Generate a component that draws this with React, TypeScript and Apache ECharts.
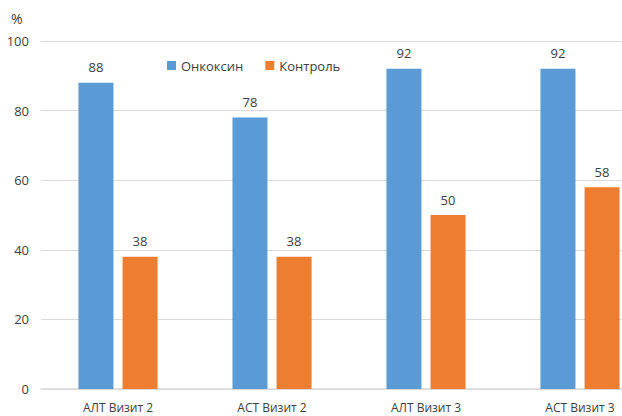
import React, { useEffect, useRef } from "react";
import * as echarts from "echarts";

const categories = ["АЛТ Визит 2", "АСТ Визит 2", "АЛТ Визит 3", "АСТ Визит 3"];
const onkoksin = [88, 78, 92, 92];
const kontrol = [38, 38, 50, 58];
const seriesNames = ["Онкоксин", "Контроль"];
const yUnit = "%";

export default function App() {
  const ref = useRef<HTMLDivElement>(null);
  useEffect(() => {
    if (!ref.current) return;
    document.body.style.overflow = "hidden";
    const chart = echarts.init(ref.current, undefined, { renderer: "svg" });
    const font = "'Open Sans', 'Noto Sans', sans-serif";
    const labelStyle = {
      show: true,
      position: "top" as const,
      distance: 9,
      color: "#404040",
      fontSize: 13,
      fontFamily: font,
    };
    chart.setOption({
      animation: false,
      backgroundColor: "#ffffff",
      textStyle: { fontFamily: font },
      graphic: [
        {
          type: "text",
          left: 11,
          top: 11,
          style: { text: yUnit, fill: "#404040", font: `14px ${font}` },
        },
      ],
      legend: {
        data: seriesNames,
        left: 162,
        top: 54,
        icon: "rect",
        itemWidth: 9,
        itemHeight: 9,
        itemGap: 22,
        textStyle: { color: "#404040", fontSize: 13, fontFamily: font },
      },
      grid: { left: 41, right: 0, top: 41, bottom: 27, containLabel: false },
      xAxis: {
        type: "category",
        data: categories,
        axisLine: { lineStyle: { color: "#d9d9d9", width: 1.5 } },
        axisTick: { show: false },
        axisLabel: { color: "#404040", fontSize: 12, margin: 12, fontFamily: font },
      },
      yAxis: {
        type: "value",
        min: 0,
        max: 100,
        interval: 20,
        axisLine: { show: false },
        axisTick: { show: false },
        splitLine: { lineStyle: { color: "#d9d9d9", width: 1 } },
        axisLabel: { color: "#404040", fontSize: 13, margin: 12, fontFamily: font },
      },
      series: [
        {
          name: seriesNames[0],
          type: "bar",
          data: onkoksin,
          barWidth: 35,
          barGap: "26%",
          itemStyle: { color: "#5b9bd5" },
          label: labelStyle,
        },
        {
          name: seriesNames[1],
          type: "bar",
          data: kontrol,
          barWidth: 35,
          barGap: "26%",
          itemStyle: { color: "#ed7d31" },
          label: labelStyle,
        },
      ],
    });
    return () => chart.dispose();
  }, []);
  return (
    <div
      ref={ref}
      style={{ position: "fixed", left: 0, top: 0, width: 657, height: 416 }}
    />
  );
}
